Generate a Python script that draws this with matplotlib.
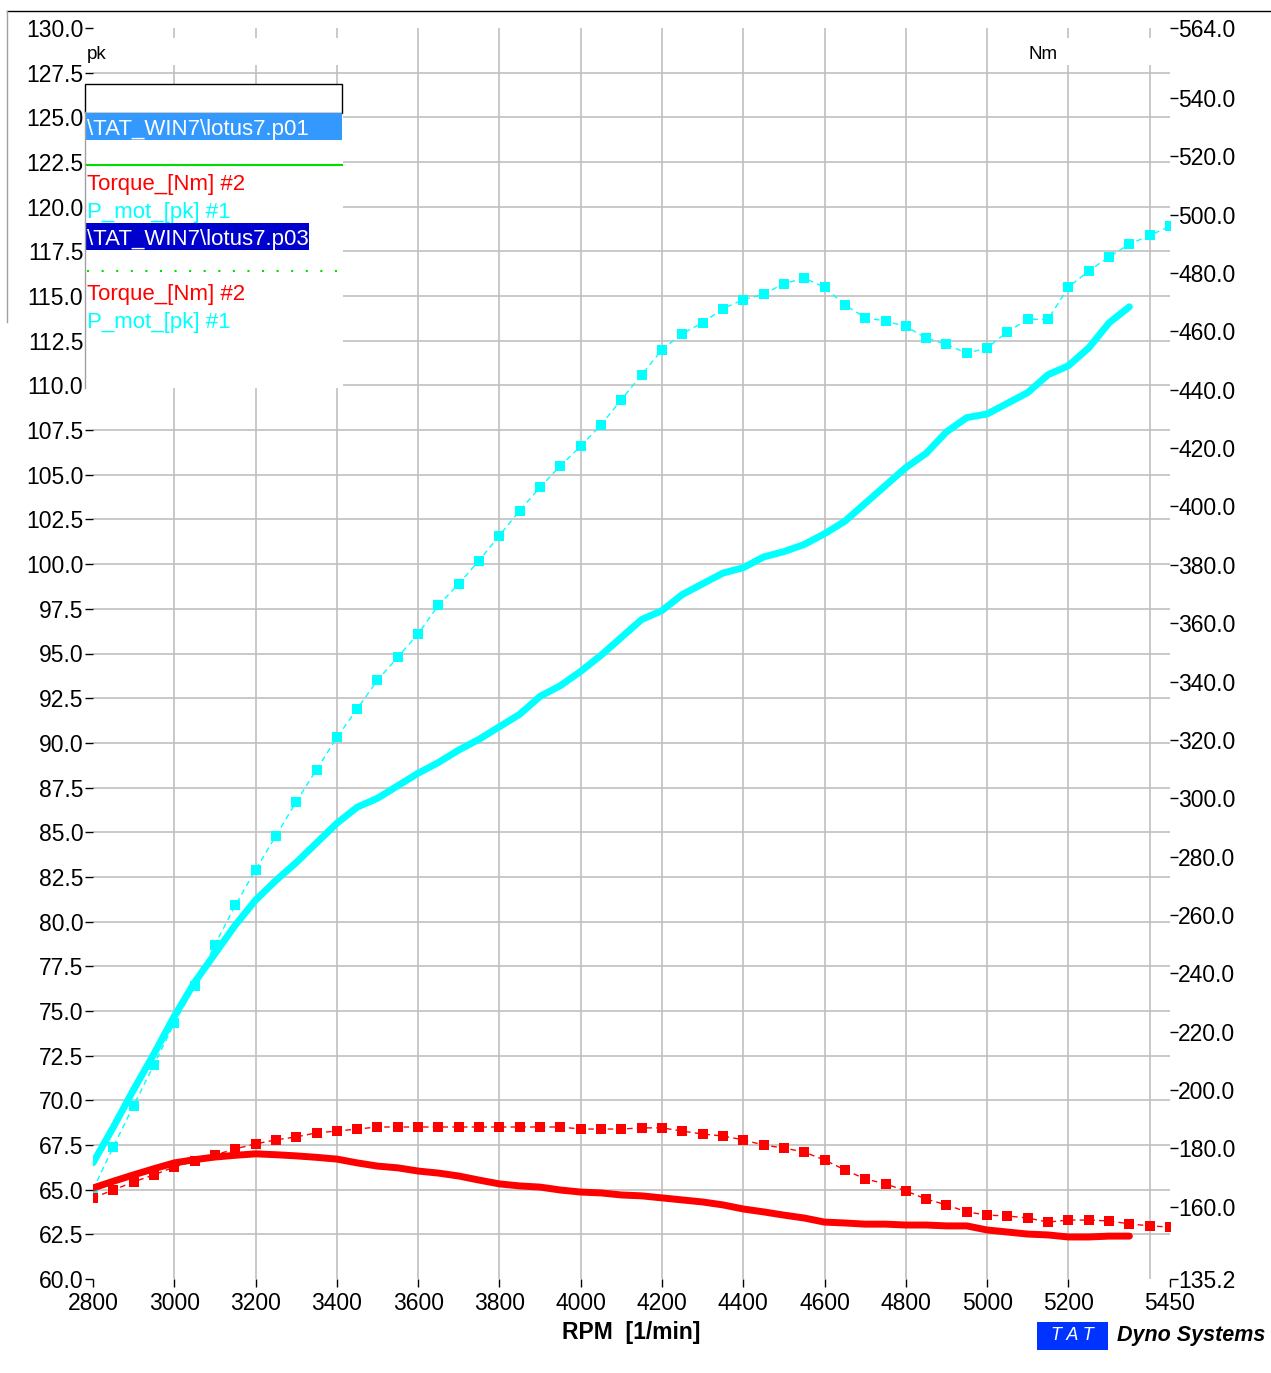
import matplotlib
matplotlib.use("Agg")
import matplotlib.pyplot as plt
from matplotlib.patches import Rectangle
from matplotlib.lines import Line2D

plt.rcParams["font.family"] = ["Liberation Sans", "DejaVu Sans"]

# ===================== DATA =====================

# run p01 (solid lines)
rpm_p01 = [2800, 2850, 2900, 2950, 3000, 3050, 3100, 3150, 3200, 3250,
           3300, 3350, 3400, 3450, 3500, 3550, 3600, 3650, 3700, 3750,
           3800, 3850, 3900, 3950, 4000, 4050, 4100, 4150, 4200, 4250,
           4300, 4350, 4400, 4450, 4500, 4550, 4600, 4650, 4700, 4750,
           4800, 4850, 4900, 4950, 5000, 5050, 5100, 5150, 5200, 5250,
           5300, 5350]
power_p01 = [66.5, 68.5, 70.6, 72.6, 74.7, 76.6, 78.2, 79.8, 81.2, 82.3,
             83.3, 84.4, 85.5, 86.4, 86.9, 87.6, 88.3, 88.9, 89.6, 90.2,
             90.9, 91.6, 92.6, 93.2, 94.0, 94.9, 95.9, 96.9, 97.4, 98.3,
             98.9, 99.5, 99.8, 100.4, 100.7, 101.1, 101.7, 102.4, 103.4, 104.4,
             105.4, 106.2, 107.4, 108.2, 108.4, 109.0, 109.6, 110.6, 111.1, 112.1,
             113.5, 114.4]
torque_p01 = [166.4, 168.7, 170.9, 173.0, 175.0, 176.1, 177.0, 177.6, 178.1, 177.8,
              177.4, 176.9, 176.3, 175.0, 173.9, 173.3, 172.2, 171.5, 170.5, 169.1,
              167.8, 167.1, 166.7, 165.7, 165.0, 164.7, 164.0, 163.7, 163.0, 162.3,
              161.6, 160.6, 159.2, 158.2, 157.1, 156.1, 154.7, 154.4, 154.0, 154.0,
              153.7, 153.7, 153.4, 153.4, 152.0, 151.3, 150.6, 150.3, 149.6, 149.6,
              149.9, 149.9]

# run p03 (dotted lines with markers)
rpm_p03 = [2800, 2850, 2900, 2950, 3000, 3050, 3100, 3150, 3200, 3250,
           3300, 3350, 3400, 3450, 3500, 3550, 3600, 3650, 3700, 3750,
           3800, 3850, 3900, 3950, 4000, 4050, 4100, 4150, 4200, 4250,
           4300, 4350, 4400, 4450, 4500, 4550, 4600, 4650, 4700, 4750,
           4800, 4850, 4900, 4950, 5000, 5050, 5100, 5150, 5200, 5250,
           5300, 5350, 5400, 5450]
power_p03 = [65.0, 67.4, 69.7, 72.0, 74.3, 76.4, 78.7, 80.9, 82.9, 84.8,
             86.7, 88.5, 90.3, 91.9, 93.5, 94.8, 96.1, 97.7, 98.9, 100.2,
             101.6, 103.0, 104.3, 105.5, 106.6, 107.8, 109.2, 110.6, 112.0, 112.9,
             113.5, 114.3, 114.8, 115.1, 115.7, 116.0, 115.5, 114.5, 113.8, 113.6,
             113.3, 112.65, 112.3, 111.8, 112.1, 113.0, 113.7, 113.7, 115.5, 116.4,
             117.2, 117.9, 118.4, 118.9]
torque_p03 = [163.0, 165.7, 168.5, 170.9, 173.6, 175.7, 177.7, 179.8, 181.5, 182.9,
              183.9, 185.3, 185.9, 186.6, 187.3, 187.3, 187.3, 187.3, 187.3, 187.3,
              187.3, 187.3, 187.3, 187.3, 186.6, 186.6, 186.6, 187.0, 187.0, 185.9,
              184.9, 184.2, 182.9, 181.1, 180.1, 178.7, 176.0, 172.6, 169.5, 167.8,
              165.4, 162.6, 160.6, 158.2, 157.1, 156.8, 156.1, 154.7, 155.4, 155.4,
              155.1, 154.1, 153.4, 153.0]

x_ticks = [2800, 3000, 3200, 3400, 3600, 3800, 4000, 4200, 4400, 4600, 4800, 5000, 5200, 5450]
x_grid = [3000, 3200, 3400, 3600, 3800, 4000, 4200, 4400, 4600, 4800, 5000, 5200, 5400]
pk_ticks = [60.0, 62.5, 65.0, 67.5, 70.0, 72.5, 75.0, 77.5, 80.0, 82.5, 85.0, 87.5, 90.0,
            92.5, 95.0, 97.5, 100.0, 102.5, 105.0, 107.5, 110.0, 112.5, 115.0, 117.5,
            120.0, 122.5, 125.0, 127.5, 130.0]
nm_ticks = [135.2, 160.0, 180.0, 200.0, 220.0, 240.0, 260.0, 280.0, 300.0, 320.0, 340.0,
            360.0, 380.0, 400.0, 420.0, 440.0, 460.0, 480.0, 500.0, 520.0, 540.0, 564.0]

CYAN = "#00FFFF"
RED = "#FF0000"
GRID = "#C0C0C0"

W, H = 1271, 1373


def fx(x):
    return x / W


def fy(y):
    return 1 - y / H


# ===================== FIGURE =====================

fig = plt.figure(figsize=(W / 100, H / 100), dpi=100)
ax = fig.add_axes([fx(93), fy(1279), (1170 - 93) / W, (1279 - 28) / H])
ax2 = ax.twinx()

ax.set_xlim(2800, 5450)
ax.set_ylim(60, 130)
ax2.set_ylim(135.2, 564.0)

for a in (ax, ax2):
    for s in a.spines.values():
        s.set_visible(False)

ax.set_xticks(x_ticks)
ax.set_xticklabels([str(v) for v in x_ticks])
ax.set_yticks(pk_ticks)
ax.set_yticklabels([f"{v:.1f}" for v in pk_ticks])
ax.tick_params(direction="out", length=6, width=1, labelsize=16.5, pad=1)
ax.tick_params(axis="x", pad=3)

# interior grid lines only
for v in x_grid:
    ax.axvline(v, color=GRID, linewidth=1.2, zorder=1)
for v in pk_ticks[1:-1]:
    ax.axhline(v, color=GRID, linewidth=1.2, zorder=1)

ax2.set_yticks(nm_ticks)
ax2.set_yticklabels([f"{v:.1f}" for v in nm_ticks])
ax2.tick_params(direction="out", length=6, width=1, labelsize=16.5, pad=0)

ax.set_xlabel("RPM  [1/min]", fontsize=16.5, fontweight="bold", labelpad=5)

# curves: power on left axis, torque on right axis
ax.plot(rpm_p01, power_p01, color=CYAN, linewidth=5, solid_capstyle="round", zorder=3)
ax.plot(rpm_p03, power_p03, color=CYAN, linewidth=1, linestyle=(0, (4, 3)),
        marker="s", markersize=7.3, markeredgewidth=0, zorder=4)
ax2.plot(rpm_p01, torque_p01, color=RED, linewidth=5, solid_capstyle="round", zorder=3)
ax2.plot(rpm_p03, torque_p03, color=RED, linewidth=1, linestyle=(0, (4, 3)),
         marker="s", markersize=7.3, markeredgewidth=0, zorder=4)

# ===================== LEGEND BLOCK (pixel layout) =====================


def box(x0, y0, x1, y1, **kw):
    fig.add_artist(Rectangle((fx(x0), fy(y1)), fx(x1) - fx(x0), fy(y0) - fy(y1),
                             transform=fig.transFigure, zorder=10, **kw))


def hline(x0, x1, y, **kw):
    fig.add_artist(Line2D([fx(x0), fx(x1)], [fy(y), fy(y)],
                          transform=fig.transFigure, zorder=11, **kw))


# white cut-outs behind unit labels
box(86, 38, 343, 65, facecolor="white", edgecolor="none")
box(1005, 38, 1162, 65, facecolor="white", edgecolor="none")
fig.text(fx(87), fy(59), "pk", fontsize=13.5, zorder=12)
fig.text(fx(1028), fy(59), "Nm", fontsize=13.5, zorder=12)

# legend panel
box(85, 84, 343, 388, facecolor="white", edgecolor="none")
fig.add_artist(Line2D([fx(85), fx(85)], [fy(112), fy(388)], color="#A0A0A0",
                      linewidth=1, transform=fig.transFigure, zorder=11))
box(85, 84, 342, 113, facecolor="white", edgecolor="black", linewidth=1)
box(85, 113, 342, 140, facecolor="#3399FF", edgecolor="none")
fig.text(fx(87), fy(135), "\\TAT_WIN7\\lotus7.p01", color="white", fontsize=16, zorder=12)
hline(87, 342, 165, color="#00DD00", linewidth=1.5)
fig.text(fx(87), fy(190), "Torque_[Nm] #2", color=RED, fontsize=16, zorder=12)
fig.text(fx(87), fy(218), "P_mot_[pk] #1", color=CYAN, fontsize=16, zorder=12)
box(86, 223, 309, 250, facecolor="#0000CC", edgecolor="none")
fig.text(fx(87), fy(245), "\\TAT_WIN7\\lotus7.p03", color="white", fontsize=16, zorder=12)
hline(87, 342, 271, color="#00DD00", linewidth=1.5, linestyle=(0, (1, 6)))
fig.text(fx(87), fy(300), "Torque_[Nm] #2", color=RED, fontsize=16, zorder=12)
fig.text(fx(87), fy(328), "P_mot_[pk] #1", color=CYAN, fontsize=16, zorder=12)

# window frame lines
hline(7, 1271, 11, color="black", linewidth=1)
fig.add_artist(Line2D([fx(7), fx(7)], [fy(11), fy(322)], color="#A0A0A0",
                      linewidth=1, transform=fig.transFigure, zorder=11))

# TAT logo
box(1037, 1322, 1108, 1350, facecolor="#0033FF", edgecolor="none")
fig.text(fx(1072), fy(1336), "T A T", color="white", fontsize=13, style="italic",
         ha="center", va="center", zorder=12)
fig.text(fx(1117), fy(1336), "Dyno Systems", color="black", fontsize=15.5,
         style="italic", fontweight="bold", va="center", zorder=12)

fig.savefig("out.png", dpi=100)
